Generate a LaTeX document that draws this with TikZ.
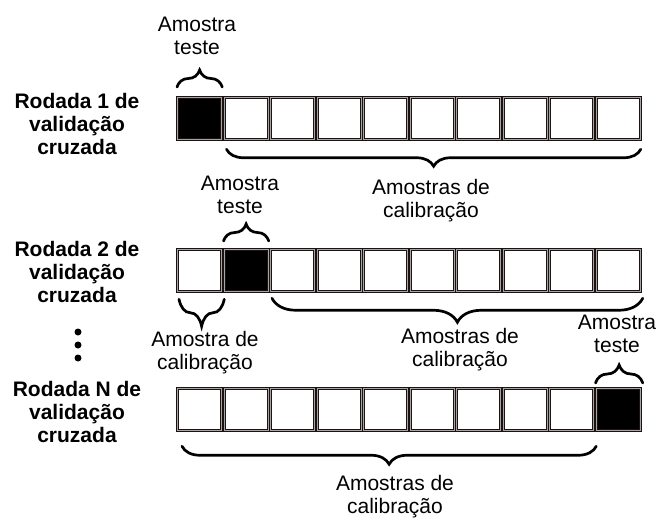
\documentclass[tikz,border=0pt]{standalone}
\usepackage{fontspec}
\setmainfont{Liberation Sans}
\usetikzlibrary{decorations.pathreplacing}
\definecolor{boxline}{RGB}{28,18,18}
\begin{document}
\begin{tikzpicture}[x=1pt,y=-1pt,
  cell/.style={draw=boxline,line width=1.25pt,double=gray!70,double distance=0.5pt,
    minimum width=44pt,minimum height=42pt,inner sep=0pt,anchor=north west,fill=white},
  testcell/.style={cell,fill=black},
  brc/.style={decorate,decoration={brace,amplitude=#1},line width=2.7pt,line cap=round},
  brc/.default=16pt,
  lbl/.style={font=\fontsize{21}{23}\selectfont,align=center,inner sep=0pt},
  round/.style={font=\fontsize{21}{23}\selectfont\bfseries,align=center,inner sep=0pt},
  dot/.style={circle,fill=black,inner sep=0pt,minimum size=7pt}]
\useasboundingbox (0,0) rectangle (660,520);

% three rows of ten samples
\foreach \i in {0,...,9}{
  \node[cell] (a\i) at (177+46.5*\i,97) {};
  \node[cell] (b\i) at (177+46.5*\i,249) {};
  \node[cell] (c\i) at (177+46.5*\i,388) {};
}
\node[testcell] (a0) at (177,97) {};
\node[testcell] (b1) at (223.5,249) {};
\node[testcell] (c9) at (595.5,388) {};

% round labels
\node[round] (ra) at (77,124) {Rodada 1 de\\validação\\cruzada};
\node[round] (rb) at (77,272) {Rodada 2 de\\validação\\cruzada};
\node[round] (rc) at (77,412) {Rodada N de\\validação\\cruzada};
\node[dot] (d1) at (78,332) {};
\node[dot] (d2) at (78,345) {};
\node[dot] (d3) at (78,358) {};

% round 1
\draw[brc=17pt] ([yshift=10pt]a0.north west) -- ([yshift=10pt]a0.north east);
\node[lbl] (ta) at (197,36) {Amostra\\teste};
\draw[brc=17pt] ([yshift=-9pt]a9.south east) -- ([xshift=3pt,yshift=-9pt]a1.south west);
\node[lbl] (ka) at (431,201) {Amostras de\\calibração};

% round 2
\draw[brc=17pt] ([yshift=8pt]b1.north west) -- ([yshift=8pt]b1.north east);
\node[lbl] (tb) at (240,195) {Amostra\\teste};
\draw[brc=27pt] ([xshift=2pt,yshift=-7pt]b0.south east) -- ([xshift=2pt,yshift=-7pt]b0.south west);
\node[lbl] (kb1) at (205,353) {Amostra de\\calibração};
\draw[brc=24pt] ([xshift=2pt,yshift=-6pt]b9.south east) -- ([xshift=2pt,yshift=-6pt]b2.south west);
\node[lbl] (kb2) at (460,350) {Amostras de\\calibração};

% round N
\node[lbl] (tc) at (617,334) {Amostra\\teste};
\draw[brc=18pt] ([yshift=5pt]c9.north west) -- ([xshift=2pt,yshift=5pt]c9.north east);
\draw[brc=18pt] ([xshift=2pt,yshift=-15pt]c8.south east) -- ([xshift=5pt,yshift=-15pt]c0.south west);
\node[lbl] (kc) at (395,497) {Amostras de\\calibração};
\end{tikzpicture}
\end{document}
